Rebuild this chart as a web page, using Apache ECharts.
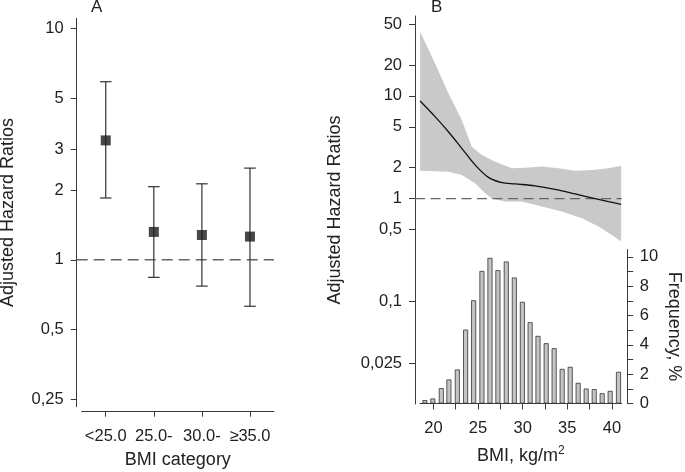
<!DOCTYPE html>
<html><head><meta charset="utf-8">
<script src="https://cdn.jsdelivr.net/npm/echarts@6/dist/echarts.min.js"></script>
<style>html,body{margin:0;padding:0;background:#fff}#c{width:685px;height:472px}</style>
</head><body><div id="c"></div><script>
// ---- Panel A data ----
const categories = ['<25.0', '25.0-', '30.0-', '≥35.0'];
const hrCat = [3.28, 1.32, 1.28, 1.26];
const hrCatLow = [1.85, 0.84, 0.77, 0.63];
const hrCatHigh = [5.88, 2.07, 2.13, 2.49];
const ticksA = [0.25, 0.5, 1, 2, 3, 5, 10];
// ---- Panel B data ----
const ticksB = [0.025, 0.1, 0.5, 1, 2, 5, 10, 20, 50];
const bmiTicks = [20, 22.5, 25, 27.5, 30, 32.5, 35, 37.5, 40];
const bmiLabels = [20, 25, 30, 35, 40];
const freqTicks = [0, 1, 2, 3, 4, 5, 6, 7, 8, 9, 10];
const freqLabels = [0, 2, 4, 6, 8, 10];
const curveBmi = [18.51, 20.19, 21.68, 23.18, 24.67, 26.17, 27.67, 29.16, 31.4, 33.64, 35.88, 38.13, 39.62, 41.04];
const curveHr = [8.92, 6.28, 4.48, 3.09, 2.13, 1.61, 1.43, 1.39, 1.33, 1.23, 1.11, 1.0, 0.935, 0.88];
const bandUpBmi = [18.51, 20.19, 21.68, 23.18, 24.3, 25.43, 26.92, 28.79, 30.28, 32.15, 34.01, 35.88, 37.75, 39.62, 41.04];
const bandUpHr = [42.2, 20.7, 10.6, 5.83, 3.2, 2.66, 2.29, 1.98, 2.0, 2.05, 1.98, 1.87, 1.9, 1.98, 2.09];
const bandLoBmi = [18.51, 21.68, 23.18, 24.67, 25.8, 26.55, 28.04, 29.91, 32.15, 34.39, 36.64, 38.5, 40.0, 41.04];
const bandLoHr = [1.87, 1.83, 1.70, 1.41, 1.13, 1.0, 0.935, 0.935, 0.836, 0.748, 0.644, 0.534, 0.443, 0.382];
const histBmi = [19.05, 19.94, 20.89, 21.74, 22.68, 23.61, 24.51, 25.44, 26.34, 27.23, 28.17, 29.07, 29.97, 30.84, 31.72, 32.64, 33.53, 34.43, 35.33, 36.22, 37.12, 38.02, 38.91, 39.81, 40.74];
const histFreq = [0.23, 0.34, 1.05, 1.64, 2.32, 5.04, 7.04, 9.04, 9.93, 9.09, 9.68, 8.59, 6.93, 5.54, 4.61, 4.11, 3.77, 2.36, 2.5, 1.41, 1.02, 0.98, 0.70, 0.86, 2.16];
const refLine = [1, 1];

const FONT = '"Liberation Sans", Arial, sans-serif';
const AX = '#3a3a3a';
const TX = '#222';
const TICK_FS = 16.5;
const TITLE_FS = 18;
const fmtComma = v => String(Number(Number(v).toPrecision(4))).replace('.', ',');

const bandPts = bandUpBmi.map((x, i) => [x, bandUpHr[i]])
  .concat(bandLoBmi.map((x, i) => [x, bandLoHr[i]]).reverse());

const axLine = {show: true, lineStyle: {color: AX, width: 1}};
const tickStyle = {color: AX, width: 1};

const chart = echarts.init(document.getElementById('c'), null, {renderer: 'canvas'});
chart.setOption({
  animation: false,
  textStyle: {fontFamily: FONT},
  grid: [
    {left: 81.7, top: 18.3, width: 192.3, height: 388.4, outerBoundsMode: 'none'},
    {left: 415, top: 16, width: 206.7, height: 388, outerBoundsMode: 'none'},
    {left: 420, top: 249.5, width: 201.7, height: 154, outerBoundsMode: 'none'},
    {left: 76.7, top: 18.3, width: 197.3, height: 388.4, outerBoundsMode: 'none'}
  ],
  xAxis: [
    {gridIndex: 0, type: 'category', data: categories, offset: 5,
     axisLine: axLine,
     axisTick: {show: true, alignWithLabel: true, length: 5, lineStyle: tickStyle},
     axisLabel: {interval: 0, fontSize: TICK_FS, color: TX, margin: 16, fontFamily: FONT},
     splitLine: {show: false},
     name: 'BMI category', nameLocation: 'middle', nameGap: 39, nameMoveOverlap: false,
     nameTextStyle: {fontSize: TITLE_FS, color: TX, fontFamily: FONT}},
    {gridIndex: 1, type: 'value', min: 17.94, max: 41.1, show: false},
    {gridIndex: 2, type: 'value', min: 18.5, max: 41.1,
     axisLine: axLine,
     axisTick: {show: true, length: 6, lineStyle: tickStyle, customValues: bmiTicks},
     axisLabel: {fontSize: TICK_FS, color: TX, margin: 16, customValues: bmiLabels, fontFamily: FONT},
     splitLine: {show: false},
     name: '{a|BMI, kg/m}{s|2}', nameLocation: 'middle', nameGap: 41, nameMoveOverlap: false,
     nameTextStyle: {color: TX, fontFamily: FONT, rich: {
       a: {fontSize: TITLE_FS, color: TX, fontFamily: FONT, lineHeight: 24},
       s: {fontSize: 12, color: TX, fontFamily: FONT, verticalAlign: 'top', lineHeight: 12}
     }}},
    {gridIndex: 3, type: 'value', min: 0, max: 1, show: false}
  ],
  yAxis: [
    {gridIndex: 0, type: 'log', min: 0.232, max: 11.05, offset: 5,
     axisLine: axLine,
     axisTick: {show: true, length: 6, lineStyle: tickStyle, customValues: ticksA},
     axisLabel: {fontSize: TICK_FS, color: TX, margin: 13, customValues: ticksA, formatter: fmtComma, fontFamily: FONT},
     splitLine: {show: false}, minorTick: {show: false},
     name: 'Adjusted Hazard Ratios', nameLocation: 'middle', nameGap: 60, nameMoveOverlap: false,
     nameTextStyle: {fontSize: TITLE_FS, color: TX, fontFamily: FONT}},
    {gridIndex: 1, type: 'log', min: 0.01, max: 60,
     axisLine: axLine,
     axisTick: {show: true, length: 6, lineStyle: tickStyle, customValues: ticksB},
     axisLabel: {fontSize: TICK_FS, color: TX, margin: 13, customValues: ticksB, formatter: fmtComma, fontFamily: FONT},
     splitLine: {show: false},
     name: 'Adjusted Hazard Ratios', nameLocation: 'middle', nameGap: 71, nameMoveOverlap: false,
     nameTextStyle: {fontSize: TITLE_FS, color: TX, fontFamily: FONT}},
    {gridIndex: 2, type: 'value', position: 'right', min: 0, max: 10.5, offset: 6,
     axisLine: axLine,
     axisTick: {show: true, length: 5.5, lineStyle: tickStyle, customValues: freqTicks},
     axisLabel: {fontSize: TICK_FS, color: TX, margin: 12, customValues: freqLabels, fontFamily: FONT},
     splitLine: {show: false},
     name: 'Frequency, %', nameLocation: 'middle', nameRotate: -90, nameGap: 37, nameMoveOverlap: false,
     nameTextStyle: {fontSize: TITLE_FS, color: TX, fontFamily: FONT}},
    {gridIndex: 3, type: 'log', min: 0.232, max: 11.05, show: false}
  ],
  graphic: [
    {type: 'text', x: 96.7, y: 7.5, style: {text: 'A', fontSize: 17, fontFamily: FONT, fill: TX, align: 'center', verticalAlign: 'middle'}},
    {type: 'text', x: 436.7, y: 7, style: {text: 'B', fontSize: 17, fontFamily: FONT, fill: TX, align: 'center', verticalAlign: 'middle'}}
  ],
  series: [
    // Panel A reference line
    {type: 'line', xAxisIndex: 3, yAxisIndex: 3, data: refLine.map((v, i) => [i, v]),
     symbol: 'none', silent: true, z: 1,
     lineStyle: {color: '#666', width: 1.4, type: [11, 6]}},
    // Panel A error bars
    {type: 'custom', xAxisIndex: 0, yAxisIndex: 0, z: 2, silent: true,
     data: categories.map((c, i) => [i, hrCatLow[i], hrCatHigh[i]]),
     encode: {x: 0, y: [1, 2]},
     renderItem: function (params, api) {
       const x = api.value(0);
       const pLo = api.coord([x, api.value(1)]);
       const pHi = api.coord([x, api.value(2)]);
       const hw = 5.8;
       const st = {stroke: '#333', lineWidth: 1.2};
       return {type: 'group', children: [
         {type: 'line', shape: {x1: pLo[0], y1: pLo[1], x2: pHi[0], y2: pHi[1]}, style: st},
         {type: 'line', shape: {x1: pHi[0] - hw, y1: pHi[1], x2: pHi[0] + hw, y2: pHi[1]}, style: st},
         {type: 'line', shape: {x1: pLo[0] - hw, y1: pLo[1], x2: pLo[0] + hw, y2: pLo[1]}, style: st}
       ]};
     }},
    // Panel A point estimates
    {type: 'scatter', xAxisIndex: 0, yAxisIndex: 0, z: 3, silent: true,
     data: hrCat.map((v, i) => [i, v]), symbol: 'rect', symbolSize: 10,
     itemStyle: {color: '#1a1a1a'}},
    // Panel B confidence band
    {type: 'custom', xAxisIndex: 1, yAxisIndex: 1, z: 1, silent: true,
     data: bandPts, encode: {x: 0, y: 1},
     renderItem: function (params, api) {
       if (params.dataIndex !== 0) return {type: 'group', children: []};
       const pts = bandPts.map(p => api.coord(p));
       return {type: 'polygon', shape: {points: pts}, style: {fill: '#c9c9c9'}};
     }},
    // Panel B reference line
    {type: 'line', xAxisIndex: 1, yAxisIndex: 1, z: 2, silent: true,
     data: [[17.94, refLine[0]], [41.1, refLine[1]]], symbol: 'none',
     lineStyle: {color: '#666', width: 1.4, type: [10, 5.5]}},
    // Panel B spline curve
    {type: 'line', xAxisIndex: 1, yAxisIndex: 1, z: 3, silent: true,
     data: curveBmi.map((x, i) => [x, curveHr[i]]), symbol: 'none', smooth: 0.35,
     lineStyle: {color: '#111', width: 1.3}},
    // Panel B histogram
    {type: 'bar', xAxisIndex: 2, yAxisIndex: 2, z: 2, silent: true,
     data: histBmi.map((x, i) => [x, histFreq[i]]), barWidth: 5,
     itemStyle: {color: '#c4c4c4', borderColor: '#333', borderWidth: 0.8}}
  ]
});
</script></body></html>
